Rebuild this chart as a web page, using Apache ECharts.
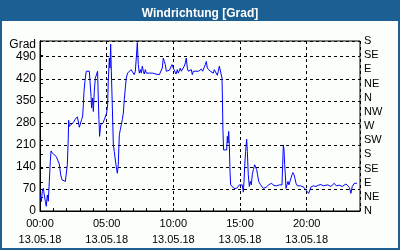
<!DOCTYPE html>
<html>
<head>
<meta charset="utf-8">
<script src="https://cdn.jsdelivr.net/npm/echarts@6/dist/echarts.min.js"></script>
<style>
html,body{margin:0;padding:0;}
#frame{position:relative;width:400px;height:250px;background:#1c5f92;overflow:hidden;}
#inner{position:absolute;left:2px;top:21px;width:396px;height:227px;background:#fbfefb;}
#chart{position:absolute;left:0;top:0;width:400px;height:250px;}
</style>
</head>
<body>
<div id="frame"><div id="inner"></div><div id="chart"></div></div>
<script>
// time of day in hours (13.05.18)
var hours = [0.02,0.10,0.17,0.25,0.32,0.40,0.47,0.55,0.62,0.70,0.77,0.83,0.92,1.05,1.22,1.35,1.45,1.55,1.65,1.75,1.90,2.00,2.05,2.12,2.15,2.20,2.27,2.35,2.50,2.65,2.80,2.87,2.95,3.05,3.12,3.20,3.25,3.30,3.37,3.47,3.60,3.70,3.75,3.83,3.87,3.95,4.00,4.07,4.15,4.25,4.32,4.37,4.42,4.47,4.55,4.62,4.72,4.82,4.92,5.00,5.07,5.12,5.20,5.25,5.30,5.35,5.42,5.50,5.57,5.65,5.72,5.80,5.87,5.95,6.02,6.10,6.17,6.25,6.32,6.40,6.47,6.57,6.70,6.83,6.95,7.07,7.15,7.22,7.30,7.37,7.45,7.52,7.60,7.67,7.75,7.82,7.90,7.97,8.07,8.20,8.33,8.45,8.57,8.70,8.82,8.95,9.07,9.17,9.25,9.32,9.40,9.47,9.57,9.70,9.83,9.90,9.97,10.05,10.12,10.20,10.30,10.37,10.45,10.52,10.60,10.67,10.75,10.82,10.90,10.97,11.05,11.12,11.20,11.27,11.35,11.42,11.50,11.60,11.70,11.80,11.90,12.00,12.10,12.20,12.30,12.40,12.47,12.55,12.62,12.70,12.77,12.85,12.92,13.00,13.07,13.15,13.22,13.30,13.37,13.45,13.52,13.60,13.65,13.67,13.72,13.77,13.90,14.00,14.05,14.10,14.15,14.20,14.25,14.30,14.42,14.55,14.65,14.75,14.85,14.95,15.02,15.10,15.17,15.25,15.30,15.35,15.42,15.50,15.55,15.62,15.70,15.77,15.85,15.92,16.00,16.10,16.17,16.25,16.32,16.40,16.47,16.55,16.65,16.75,16.85,16.95,17.05,17.15,17.25,17.35,17.45,17.55,17.65,17.75,17.85,17.95,18.05,18.15,18.20,18.25,18.30,18.35,18.40,18.45,18.52,18.60,18.67,18.75,18.82,18.90,18.97,19.05,19.12,19.20,19.30,19.42,19.55,19.67,19.80,19.92,19.97,20.05,20.15,20.32,20.50,20.70,20.87,21.07,21.25,21.40,21.57,21.82,21.95,22.07,22.22,22.45,22.67,22.82,22.95,23.08,23.20,23.32,23.42,23.57,23.70,23.77];
// wind direction in degrees (unwrapped, 0..540)
var direction = [51,30,62,72,51,31,15,51,31,94,157,191,184,178,173,159,149,115,99,94,94,96,147,231,288,269,263,272,281,292,299,285,266,272,290,302,337,380,412,444,449,444,412,364,327,359,316,380,422,435,444,359,290,237,274,269,279,290,302,311,337,412,486,454,530,444,337,210,189,162,141,120,147,242,258,274,290,311,353,391,422,438,444,449,444,433,444,486,535,465,438,449,438,460,444,435,449,438,444,438,441,438,440,435,433,433,431,454,486,475,465,444,449,447,449,465,460,449,444,435,449,438,444,454,444,449,438,460,470,486,454,444,449,438,449,433,444,449,444,438,444,447,451,444,449,465,475,454,460,449,444,449,444,438,449,444,445,431,444,460,465,454,422,385,258,194,194,194,237,216,253,210,126,83,78,72,76,72,78,83,78,78,83,60,94,141,189,228,189,115,78,94,83,115,131,147,152,131,115,94,88,83,85,72,70,75,78,83,85,88,86,81,75,80,83,83,83,83,147,210,194,147,115,72,83,94,83,94,104,115,122,115,104,88,80,80,80,83,75,78,65,60,56,76,80,78,82,84,80,76,83,78,82,88,80,82,78,82,86,80,75,56,78,88,93,88];
// axis tick labels
var leftTicks = [0,70,140,210,280,350,420,490];
var compass = ['N','NE','E','SE','S','SW','W','NW','N','NE','E','SE','S'];
var timeLabels = ['00:00','05:00','10:00','15:00','20:00'];
var dateLabel = '13.05.18';

var FONT = 'Liberation Sans';
var chart = echarts.init(document.getElementById('chart'), null, {renderer:'canvas'});
var data = hours.map(function(h,i){return [h, direction[i]];});

chart.setOption({
  backgroundColor:'transparent',
  animation:false,
  title:{text:'Windrichtung [Grad]', left:'center', top:3,
    textStyle:{color:'#ffffff', fontSize:12, fontWeight:'bold', fontFamily:FONT}},
  grid:{left:40, top:41, width:320, height:170, show:true, borderColor:'#000', borderWidth:1, backgroundColor:'transparent'},
  xAxis:[{
    type:'value', min:0, max:24, interval:5, position:'bottom',
    axisLine:{show:true, lineStyle:{color:'#000', width:1}},
    axisTick:{show:false},
    axisLabel:{color:'#000', fontSize:11, fontFamily:FONT, margin:5, lineHeight:16,
      showMaxLabel:false,
      formatter:function(v){var i=Math.round(v/5); if(v%5!==0||i>=timeLabels.length) return ''; return timeLabels[i]+'\n'+dateLabel;}},
    splitLine:{show:true, lineStyle:{color:'#000', type:[3,3], width:1}}
  },{
    type:'value', min:0, max:24, interval:1, position:'bottom',
    axisLine:{show:false},
    axisTick:{show:true, inside:true, length:3, lineStyle:{color:'#000'}},
    axisLabel:{show:false},
    splitLine:{show:false}
  }],
  yAxis:[{
    type:'value', min:0, max:540, interval:70, position:'left',
    axisLine:{show:true, lineStyle:{color:'#000'}},
    axisTick:{show:false},
    axisLabel:{color:'#000', fontSize:12, fontFamily:FONT, margin:4,
      formatter:function(v){return leftTicks.indexOf(v)>=0 ? String(v) : '';}},
    splitLine:{show:true, lineStyle:{color:'#000', type:[3,3], width:1}},
    name:'Grad', nameLocation:'end', nameGap:-6,
    nameTextStyle:{color:'#000', fontSize:12, fontFamily:FONT, align:'right', verticalAlign:'middle', padding:[0,4,0,0]}
  },{
    type:'value', min:0, max:540, interval:45, position:'right',
    axisLine:{show:true, lineStyle:{color:'#000'}},
    axisTick:{show:true, length:3, lineStyle:{color:'#000'}},
    axisLabel:{color:'#000', fontSize:11, fontFamily:FONT, margin:4,
      formatter:function(v){var i=Math.round(v/45); return compass[i]||'';}},
    splitLine:{show:false}
  }],
  series:[{
    type:'line', xAxisIndex:0, yAxisIndex:0, data:data,
    showSymbol:false, symbol:'none',
    lineStyle:{color:'#0000ff', width:1},
    clip:true
  }]
});
</script>
</body>
</html>
